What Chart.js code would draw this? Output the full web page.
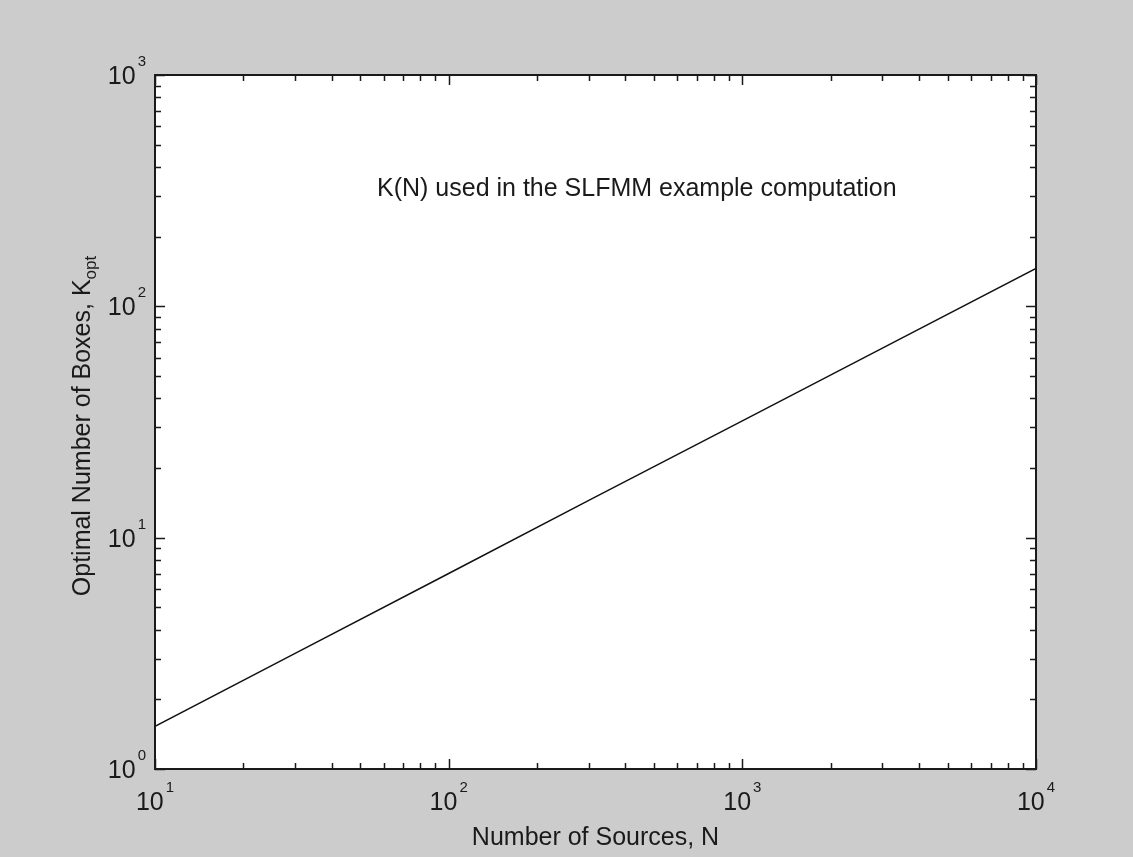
<!DOCTYPE html>
<html>
<head>
<meta charset="utf-8">
<script src="https://cdn.jsdelivr.net/npm/chart.js@4.4.1/dist/chart.umd.min.js"></script>
<style>
  html, body { margin: 0; padding: 0; background: #cccccc; }
  #wrap { width: 1133px; height: 857px; }
</style>
</head>
<body>
<div id="wrap"><canvas id="chart" width="1133" height="857"></canvas></div>
<script>
// number of sources N, and K(N)
const nValues = [10, 30, 100, 300, 1000, 3000, 10000];
const kValues = [1.53, 3.16, 7.0, 14.5, 32, 66, 146];

// major ticks (powers of ten) and their exponents
const xTickExp = [1, 2, 3, 4];
const yTickExp = [0, 1, 2, 3];
const minorSteps = [2, 3, 4, 5, 6, 7, 8, 9];

const xTitle = "Number of Sources, N";
const yTitle = "Optimal Number of Boxes, K";
const yTitleSub = "opt";
const noteText = "K(N) used in the SLFMM example computation";

const FONT = "'Liberation Sans', Arial, sans-serif";
const INK = "#1a1a1a";

// gray figure, white axes
const backdrop = {
  id: "backdrop",
  beforeDraw(chart) {
    const { ctx, chartArea: a } = chart;
    ctx.save();
    ctx.fillStyle = "#cccccc";
    ctx.fillRect(0, 0, chart.width, chart.height);
    ctx.fillStyle = "#ffffff";
    ctx.fillRect(a.left, a.top, a.right - a.left, a.bottom - a.top);
    ctx.restore();
  },
};

function powLabel(ctx, x, y, exp, align) {
  // "10" plus raised exponent; align = center | right
  ctx.font = `25px ${FONT}`;
  const wBase = ctx.measureText("10").width;
  ctx.font = `15px ${FONT}`;
  const wExp = ctx.measureText(String(exp)).width;
  const gap = 2;
  const total = wBase + gap + wExp;
  const x0 = align === "right" ? x - total : x - total / 2;
  ctx.textAlign = "left";
  ctx.textBaseline = "alphabetic";
  ctx.font = `25px ${FONT}`;
  ctx.fillText("10", x0, y);
  ctx.font = `15px ${FONT}`;
  ctx.fillText(String(exp), x0 + wBase + gap, y - 18);
}

// MATLAB style box, inward ticks on all sides, labels and titles
const frame = {
  id: "frame",
  afterDraw(chart) {
    const { ctx, chartArea: a } = chart;
    const xs = chart.scales.x, ys = chart.scales.y;
    ctx.save();
    ctx.strokeStyle = INK;
    ctx.fillStyle = INK;

    ctx.lineWidth = 1.5;
    ctx.beginPath();
    const tick = (px, len, horiz) => {
      if (horiz) {
        ctx.moveTo(px, a.bottom); ctx.lineTo(px, a.bottom - len);
        ctx.moveTo(px, a.top); ctx.lineTo(px, a.top + len);
      } else {
        ctx.moveTo(a.left, px); ctx.lineTo(a.left + len, px);
        ctx.moveTo(a.right, px); ctx.lineTo(a.right - len, px);
      }
    };
    xTickExp.forEach((e, i) => {
      const base = Math.pow(10, e);
      tick(Math.round(xs.getPixelForValue(base)) + 0.5, 10, true);
      if (i < xTickExp.length - 1) {
        minorSteps.forEach((m) => tick(Math.round(xs.getPixelForValue(m * base)) + 0.5, 6, true));
      }
    });
    yTickExp.forEach((e, i) => {
      const base = Math.pow(10, e);
      tick(Math.round(ys.getPixelForValue(base)) + 0.5, 10, false);
      if (i < yTickExp.length - 1) {
        minorSteps.forEach((m) => tick(Math.round(ys.getPixelForValue(m * base)) + 0.5, 6, false));
      }
    });
    ctx.stroke();

    ctx.lineWidth = 2;
    ctx.strokeRect(a.left, a.top, a.right - a.left, a.bottom - a.top);

    // tick labels
    xTickExp.forEach((e) => powLabel(ctx, xs.getPixelForValue(Math.pow(10, e)), a.bottom + 41, e, "center"));
    yTickExp.forEach((e) => powLabel(ctx, a.left - 9, ys.getPixelForValue(Math.pow(10, e)) + 9, e, "right"));

    // x title
    ctx.font = `25px ${FONT}`;
    ctx.textAlign = "center";
    ctx.textBaseline = "alphabetic";
    ctx.fillText(xTitle, (a.left + a.right) / 2, 845);

    // y title with subscript, rotated
    ctx.save();
    ctx.translate(90, (a.top + a.bottom) / 2 + 4);
    ctx.rotate(-Math.PI / 2);
    ctx.font = `25px ${FONT}`;
    const wMain = ctx.measureText(yTitle).width;
    ctx.font = `17px ${FONT}`;
    const wSub = ctx.measureText(yTitleSub).width;
    const start = -(wMain + wSub) / 2;
    ctx.textAlign = "left";
    ctx.font = `25px ${FONT}`;
    ctx.fillText(yTitle, start, 0);
    ctx.font = `17px ${FONT}`;
    ctx.fillText(yTitleSub, start + wMain, 6);
    ctx.restore();

    // annotation
    ctx.font = `25px ${FONT}`;
    ctx.textAlign = "left";
    ctx.fillText(noteText, 377, 196);

    ctx.restore();
  },
};

new Chart(document.getElementById("chart"), {
  type: "line",
  data: {
    datasets: [{
      data: nValues.map((n, i) => ({ x: n, y: kValues[i] })),
      borderColor: "#111111",
      borderWidth: 1.5,
      pointRadius: 0,
      tension: 0,
      fill: false,
    }],
  },
  options: {
    responsive: false,
    animation: false,
    layout: { padding: { left: 155, right: 97, top: 75, bottom: 88 } },
    plugins: { legend: { display: false }, tooltip: { enabled: false } },
    scales: {
      x: { type: "logarithmic", min: 10, max: 10000, display: false },
      y: { type: "logarithmic", min: 1, max: 1000, display: false },
    },
  },
  plugins: [backdrop, frame],
});
</script>
</body>
</html>
